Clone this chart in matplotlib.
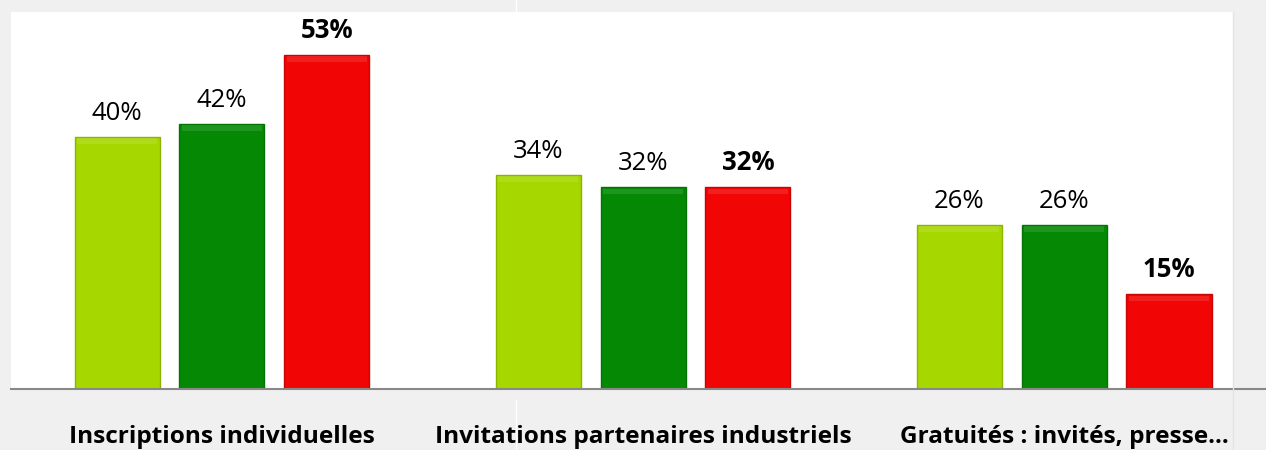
import matplotlib
matplotlib.use('Agg')
import matplotlib.pyplot as plt
import numpy as np
from matplotlib.lines import Line2D

# Données
categories = ['Inscriptions individuelles',
              'Invitations partenaires industriels',
              'Gratuités : invités, presse...']
serie_1 = [40, 34, 26]
serie_2 = [42, 32, 26]
serie_3 = [53, 32, 15]

couleurs = ['#a6d800', '#058905', '#f20505']
bords = ['#8bb400', '#047204', '#c80404']

plt.rcParams['font.family'] = ['Open Sans', 'DejaVu Sans']

fig = plt.figure(figsize=(12.66, 4.5), dpi=100)
fig.patch.set_facecolor('#f0f0f0')
ax = fig.add_axes([11 / 1266, 61 / 450, 1222 / 1266, 377 / 450])
ax.set_facecolor('white')

x = np.arange(len(categories))
largeur = 0.202
decalage = 0.249

series = [serie_1, serie_2, serie_3]
for i, valeurs in enumerate(series):
    pos = x + (i - 1) * decalage
    barres = ax.bar(pos, valeurs, width=largeur, color=couleurs[i],
                    edgecolor=bords[i], linewidth=1.0, zorder=3)
    # léger reflet en haut des barres
    ax.bar(pos, [0.9] * len(valeurs), bottom=np.array(valeurs) - 1.1,
           width=largeur * 0.94, color='white', alpha=0.10, linewidth=0, zorder=4)
    for b, v in zip(barres, valeurs):
        ax.annotate('%d%%' % v, (b.get_x() + b.get_width() / 2, v),
                    xytext=(0, 8), textcoords='offset points',
                    ha='center', va='bottom', fontsize=18.5,
                    fontweight='bold' if i == 2 else 'normal', color='black')

ax.set_xlim(-0.501, 2.401)
ax.set_ylim(0, 59.8)
ax.set_yticks([])
ax.set_xticks([])
for s in ax.spines.values():
    s.set_visible(False)

# ligne de base
fig.add_artist(Line2D([11 / 1266, 1.0], [61 / 450, 61 / 450], color='#888888', lw=1.5))
# séparations légères
fig.add_artist(Line2D([1233 / 1266, 1233 / 1266], [0, 438 / 450], color='#e4e4e4', lw=1))
fig.add_artist(Line2D([516 / 1266, 516 / 1266], [438 / 450, 1], color='white', lw=1))
fig.add_artist(Line2D([516 / 1266, 516 / 1266], [0, 50 / 450], color='white', lw=1))

for xi, cat in zip(x, categories):
    ax.text(xi, -8.55, cat, ha='center', va='baseline', fontsize=17.6,
            fontweight='bold', color='black', transform=ax.transData, clip_on=False)

fig.savefig('out.png', dpi=100, facecolor=fig.get_facecolor())
